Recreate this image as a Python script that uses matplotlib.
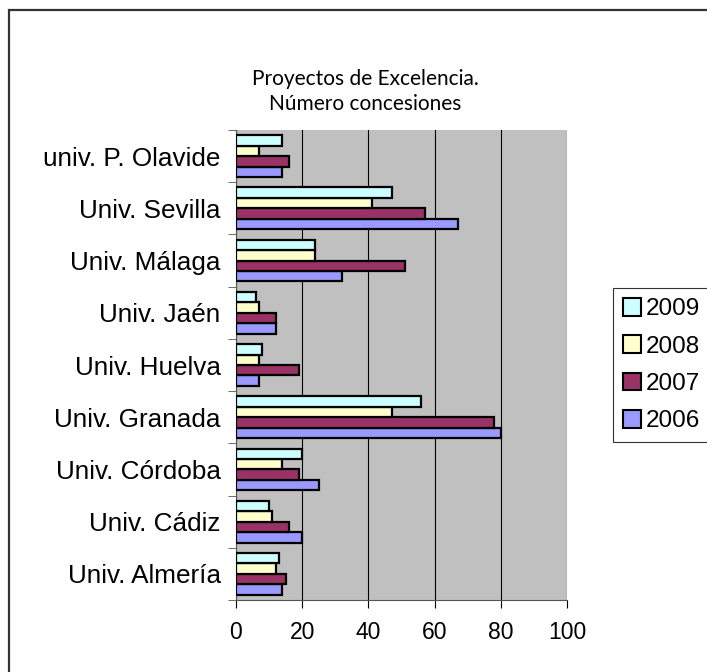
import matplotlib
matplotlib.use("Agg")
import matplotlib.pyplot as plt
import matplotlib.patches as mpatches
import numpy as np

universities = ["Univ. Almería", "Univ. Cádiz", "Univ. Córdoba", "Univ. Granada",
                "Univ. Huelva", "Univ. Jaén", "Univ. Málaga", "Univ. Sevilla",
                "univ. P. Olavide"]
years = ["2006", "2007", "2008", "2009"]
v2006 = [14, 20, 25, 80, 7, 12, 32, 67, 14]
v2007 = [15, 16, 19, 78, 19, 12, 51, 57, 16]
v2008 = [12, 11, 14, 47, 7, 7, 24, 41, 7]
v2009 = [13, 10, 20, 56, 8, 6, 24, 47, 14]
colors = ["#9999FF", "#993366", "#FFFFCC", "#CCFFFF"]

fig = plt.figure(figsize=(7.07, 6.72), dpi=100)
ax = fig.add_axes([236 / 707, 72 / 672, 331 / 707, 470 / 672])
ax.set_facecolor("#C0C0C0")

y = np.arange(len(universities))
h = 0.2
offsets = [-0.3, -0.1, 0.1, 0.3]
for vals, off, c in zip([v2006, v2007, v2008, v2009], offsets, colors):
    ax.barh(y + off, vals, height=h, color=c, edgecolor="black", linewidth=1.6, zorder=3)

ax.set_xlim(0, 100)
ax.set_ylim(-0.5, len(universities) - 0.5)
ax.set_xticks(np.arange(0, 101, 20))
ax.xaxis.grid(True, color="black", linewidth=0.8, zorder=0)
ax.set_yticks(y)
ax.set_yticklabels(universities)
ax.set_yticks(np.arange(-0.5, len(universities), 1), minor=True)
ax.tick_params(axis="y", which="major", length=0, pad=11, labelsize=18.8)
ax.tick_params(axis="y", which="minor", length=6, direction="out", color="#555555")
ax.tick_params(axis="x", length=6, direction="out", labelsize=16.5, pad=9)
for lbl in ax.get_xticklabels() + ax.get_yticklabels():
    lbl.set_family("Liberation Sans")
for s in ["top", "right"]:
    ax.spines[s].set_visible(False)
ax.spines["left"].set_color("#555555")
ax.spines["bottom"].set_color("#555555")

# legend, 2009 first
handles = [mpatches.Patch(facecolor=c, edgecolor="black", linewidth=1.5) for c in colors][::-1]
leg = fig.legend(handles, years[::-1], loc="upper left", bbox_to_anchor=(613 / 707, 1 - 288 / 672),
                 frameon=True, fancybox=False, edgecolor="black", handlelength=0.75, handleheight=0.75,
                 handletextpad=0.2, labelspacing=0.62, borderpad=0.4, borderaxespad=0,
                 prop={"family": "Liberation Sans", "size": 17.5})
leg.get_frame().set_linewidth(0.8)

fig.text(365 / 707, 1 - 79 / 672, "Proyectos de Excelencia.", ha="center", va="center",
         fontsize=15, family="Lato")
fig.text(365 / 707, 1 - 104 / 672, "Número concesiones", ha="center", va="center",
         fontsize=15, family="Lato")

# outer border (cut off at right and bottom)
fig.patches.append(mpatches.Rectangle((9 / 707, -10 / 672), 720 / 707, 672 / 672,
                                      transform=fig.transFigure, fill=False,
                                      edgecolor="#333333", linewidth=1.6))

fig.savefig("out.png", dpi=100)
